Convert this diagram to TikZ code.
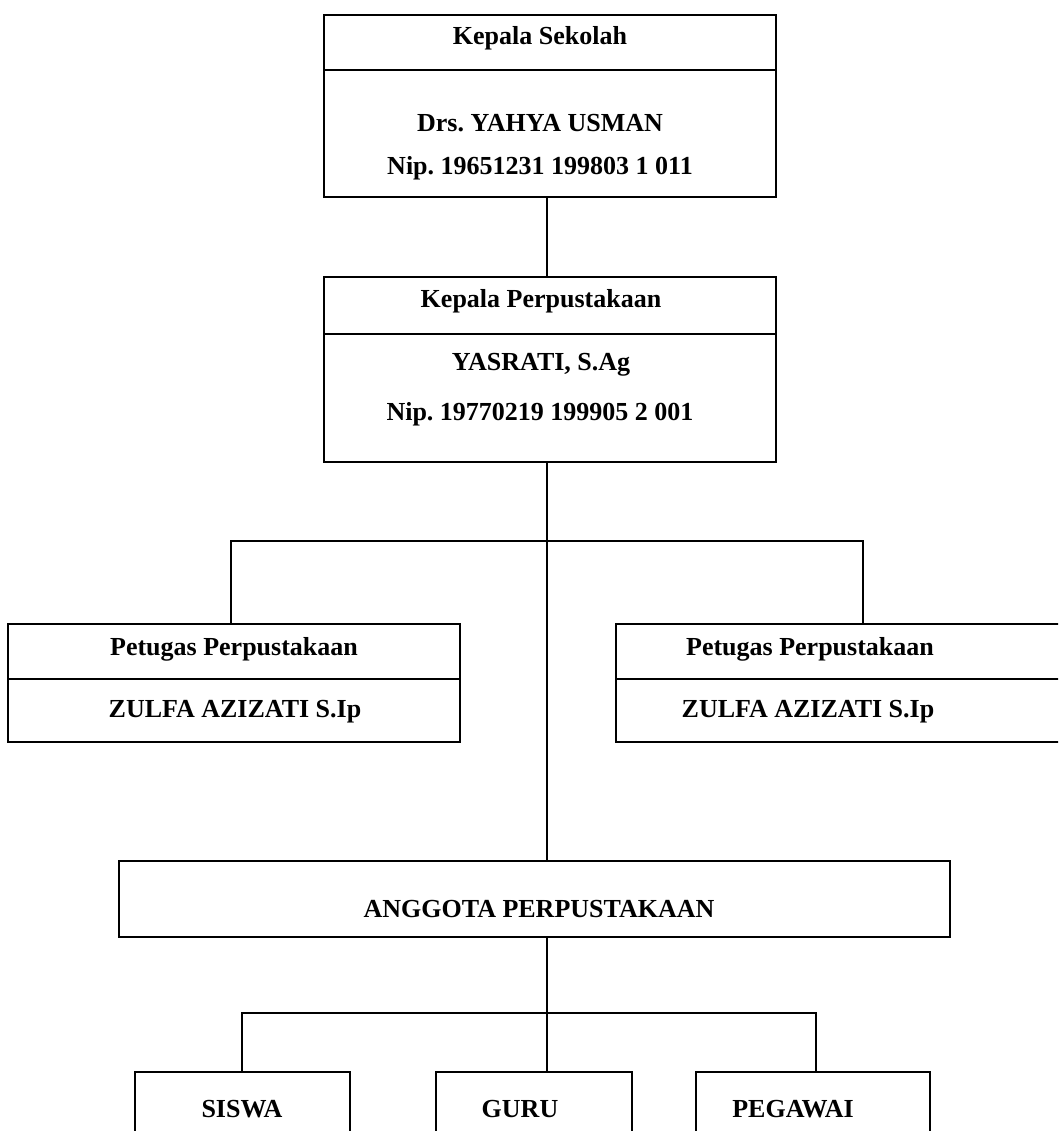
\documentclass[tikz,border=0pt]{standalone}
\usepackage{fontspec}
\setmainfont{Liberation Serif}
\frenchspacing
\begin{document}
\begin{tikzpicture}[x=1pt,y=-1pt,
  frame/.style={draw, line width=1.8pt, inner sep=0pt, outer sep=0pt, anchor=north west},
  divider/.style={line width=1.8pt},
  conn/.style={line width=1.4pt},
  lbl/.style={font=\fontsize{26}{30}\selectfont\bfseries\frenchspacing, anchor=base, inner sep=0pt}]
\clip (0,0) rectangle (1058,1131);
\fill[white] (0,0) rectangle (1058,1131);

% Kepala Sekolah
\node[frame, minimum width=452pt, minimum height=182pt] (ks) at (324,15) {};
\draw[divider, line width=2.6pt] (ks.west |- 0,70) -- (ks.east |- 0,70);
\node[lbl] (ksA) at (540,45) {Kepala Sekolah};
\node[lbl] (ksB) at (540,132) {Drs. YAHYA USMAN};
\node[lbl] (ksC) at (540,175) {Nip. 19651231 199803 1 011};

% Kepala Perpustakaan
\node[frame, minimum width=452pt, minimum height=185pt] (kp) at (324,277) {};
\draw[divider] (kp.west |- 0,334) -- (kp.east |- 0,334);
\node[lbl] (kpA) at (541,307) {Kepala Perpustakaan};
\node[lbl] (kpB) at (541,370) {YASRATI, S.Ag};
\node[lbl] (kpC) at (540,420) {Nip. 19770219 199905 2 001};

% Petugas left
\node[frame, minimum width=452pt, minimum height=118pt] (pl) at (8,624) {};
\draw[divider] (pl.west |- 0,679) -- (pl.east |- 0,679);
\node[lbl] (plA) at (234,655) {Petugas Perpustakaan};
\node[lbl] (plB) at (235,717) {ZULFA AZIZATI S.Ip};

% Petugas right
\node[frame, minimum width=452pt, minimum height=118pt] (pr) at (616,624) {};
\draw[divider] (pr.west |- 0,679) -- (pr.east |- 0,679);
\node[lbl] (prA) at (810,655) {Petugas Perpustakaan};
\node[lbl] (prB) at (808,717) {ZULFA AZIZATI S.Ip};

% Anggota
\node[frame, minimum width=831pt, minimum height=76pt] (ang) at (119,861) {};
\node[lbl] (angA) at (539,917) {ANGGOTA PERPUSTAKAAN};

% Bottom boxes
\node[frame, minimum width=215pt, minimum height=90pt] (sis) at (135,1072) {};
\node[lbl] (sisA) at (242,1117) {SISWA};
\node[frame, minimum width=196pt, minimum height=90pt] (gur) at (436,1072) {};
\node[lbl] (gurA) at (520,1117) {GURU};
\node[frame, minimum width=234pt, minimum height=90pt] (peg) at (696,1072) {};
\node[lbl] (pegA) at (793,1117) {PEGAWAI};

% Connectors
\coordinate (trunk) at (547,0);
\coordinate (bl) at (231,541);
\coordinate (br) at (863,541);
\coordinate (sl) at (242,1013);
\coordinate (sr) at (816,1013);
\draw[conn] (ks.south -| trunk) -- (kp.north -| trunk);
\draw[conn] (kp.south -| trunk) -- (ang.north -| trunk);
\draw[conn] (pl.north -| bl) -- (bl) -- (br) -- (pr.north -| br);
\draw[conn] (ang.south -| trunk) -- (gur.north -| trunk);
\draw[conn] (sis.north -| sl) -- (sl) -- (sr) -- (peg.north -| sr);
\end{tikzpicture}
\end{document}
